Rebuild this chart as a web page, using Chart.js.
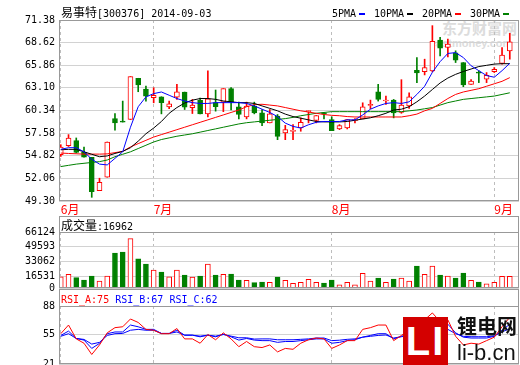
<!DOCTYPE html>
<html>
<head>
<meta charset="utf-8">
<title>易事特 300376</title>
<script src="https://cdn.jsdelivr.net/npm/chart.js@4.4.1/dist/chart.umd.min.js"></script>
<style>
  html, body { margin: 0; padding: 0; background: #fff; }
  #wrap { position: relative; width: 520px; height: 365px; overflow: hidden; }
  canvas { position: absolute; left: 0; z-index: 1; }
  .txt { position: absolute; white-space: nowrap; font-family: "DejaVu Sans Mono", monospace; font-size: 10px; line-height: 14px; z-index: 2; color: #000; }
  .cjk { font-family: "Noto Sans CJK SC", sans-serif; font-size: 12px; }
  .key { position: absolute; top: 13px; width: 6px; height: 2px; z-index: 2; }
  .box { position: absolute; left: 59px; width: 460px; border: 1px solid #999; border-bottom: none; box-sizing: border-box; z-index: 2; }
  .wm { position: absolute; z-index: 0; color: #dcdcdc; font-weight: bold; white-space: nowrap; }
  #logo { position: absolute; left: 403px; top: 317px; width: 45px; height: 48px; background: #d40000; color: #fff; z-index: 3;
          font: bold 40px "Liberation Sans", sans-serif; line-height: 48px; text-align: center; letter-spacing: 2px; }
  .brand { position: absolute; z-index: 3; color: #111; white-space: nowrap; }
</style>
</head>
<body>
<div id="wrap">
  <div class="wm" style="left:442px;top:19px;font-family:'Noto Sans CJK SC';font-size:15px;line-height:18px">东方财富网</div>
  <div class="wm" style="left:430px;top:37px;font-family:'Liberation Sans';font-size:11px;line-height:12px">eastmoney.com</div>

  <canvas id="price" width="520" height="216" style="top:0"></canvas>
  <canvas id="vol" width="520" height="80" style="top:216px"></canvas>
  <canvas id="rsi" width="520" height="86" style="top:289px"></canvas>

  <div class="txt" style="left:61px;top:5px"><span class="cjk">易事特</span>[300376] 2014-09-03</div>

  <div class="txt" style="left:332px;top:7px">5PMA</div>
  <div class="key" style="left:359px;background:#0000ff"></div>
  <div class="txt" style="left:374px;top:7px">10PMA</div>
  <div class="key" style="left:407px;background:#000000"></div>
  <div class="txt" style="left:422px;top:7px">20PMA</div>
  <div class="key" style="left:455px;background:#ff0000"></div>
  <div class="txt" style="left:470px;top:7px">30PMA</div>
  <div class="key" style="left:503px;background:#008000"></div>

  <div class="box" style="top:216px;height:16px"></div>
  <div class="txt" style="left:61px;top:218px"><span class="cjk">成交量</span>:16962</div>

  <div class="box" style="top:289px;height:17px"></div>
  <div class="txt" style="left:61px;top:293px"><span style="color:#ff0000">RSI_A:75</span> <span style="color:#0000ff">RSI_B:67</span> <span style="color:#0000ff">RSI_C:62</span></div>

  <div id="logo">LI</div>
  <div class="brand" style="left:457px;top:315px;font:bold 20px 'Noto Sans CJK SC';line-height:22px">锂电网</div>
  <div class="brand" style="left:457px;top:342px;font:22px 'Liberation Sans';line-height:22px">li-b.cn</div>
</div>

<script>
// trading days shown, 2014
const dates = [
  '06-13', '06-16', '06-17', '06-18', '06-19', '06-20', '06-23', '06-24', '06-25', '06-26', '06-27', '06-30',
  '07-01', '07-02', '07-03', '07-04', '07-07', '07-08', '07-09', '07-10', '07-11', '07-14', '07-15', '07-16',
  '07-17', '07-18', '07-21', '07-22', '07-23', '07-24', '07-25', '07-28', '07-29', '07-30', '07-31',
  '08-01', '08-04', '08-05', '08-06', '08-07', '08-08', '08-11', '08-12', '08-13', '08-14', '08-15',
  '08-18', '08-19', '08-20', '08-21', '08-22', '08-25', '08-26', '08-27', '08-28', '08-29',
  '09-01', '09-02', '09-03'
];

const open = [54.94, 56.05, 56.66, 55.23, 54.62, 50.57, 52.20, 59.36, 59.00, 59.24,
  64.27, 62.96, 61.90, 62.02, 60.79, 61.98, 62.59, 60.67, 61.57, 59.93,
  61.30, 61.36, 63.00, 60.79, 59.57, 60.87, 60.06, 58.83, 59.65, 57.60,
  57.80, 58.22, 60.20, 59.12, 60.00, 59.24, 58.09, 58.22, 59.10, 59.32,
  60.95, 62.63, 61.50, 61.61, 60.10, 60.90, 65.25, 65.09, 65.17, 68.93,
  68.03, 67.38, 66.19, 63.53, 64.97, 64.15, 65.09, 66.07, 67.62];
const high = [56.17, 57.40, 56.99, 55.88, 54.62, 52.08, 56.50, 59.97, 61.49, 64.47,
  64.27, 63.33, 63.12, 62.02, 61.49, 63.53, 62.59, 61.69, 61.86, 65.17,
  62.84, 63.00, 63.15, 61.36, 61.36, 61.36, 60.46, 60.46, 59.85, 58.53,
  58.62, 59.44, 60.30, 59.73, 60.10, 59.57, 58.62, 59.24, 59.36, 61.28,
  61.61, 63.53, 62.10, 61.69, 64.10, 62.50, 66.80, 66.60, 70.69, 69.26,
  69.05, 67.62, 66.19, 64.10, 65.17, 64.97, 65.58, 68.03, 69.75];
const low = [54.74, 55.95, 55.15, 54.66, 49.75, 50.57, 52.20, 57.93, 58.93, 59.24,
  62.63, 61.49, 61.28, 59.93, 60.55, 61.69, 60.46, 59.97, 59.93, 59.57,
  60.26, 60.20, 60.40, 59.32, 59.32, 59.93, 58.50, 58.83, 56.78, 56.78,
  56.78, 57.81, 58.83, 58.83, 59.32, 57.89, 58.01, 58.09, 58.83, 59.32,
  60.55, 61.49, 61.08, 59.44, 60.00, 60.60, 63.74, 64.68, 65.05, 67.01,
  66.88, 66.19, 63.25, 63.53, 63.74, 63.74, 64.97, 65.99, 66.60];
const close = [55.88, 56.99, 55.23, 54.66, 50.44, 51.59, 56.50, 58.83, 58.93, 64.47,
  63.45, 62.10, 62.18, 61.28, 61.16, 62.63, 60.75, 61.00, 59.93, 61.77,
  60.80, 63.00, 61.40, 59.85, 60.87, 60.06, 58.83, 59.93, 57.19, 58.01,
  57.89, 58.91, 60.26, 59.73, 59.92, 57.89, 58.50, 59.24, 59.16, 60.79,
  61.08, 61.69, 61.61, 60.06, 61.00, 62.00, 64.92, 65.58, 68.77, 67.95,
  68.44, 66.48, 63.45, 63.94, 64.90, 64.64, 65.37, 67.09, 68.73];

const ma5 = [55.6, 55.8, 55.8, 55.3, 54.4, 53.8, 53.7, 54.5, 55.3, 58.3,
  60.8, 62.0, 62.4, 62.6, 62.2, 61.8, 61.5, 61.3, 61.2, 61.2,
  61.3, 61.3, 61.3, 61.3, 61.2, 60.9, 60.5, 60.1, 59.6, 58.8,
  58.4, 58.2, 58.6, 58.9, 59.0, 59.0, 59.0, 59.2, 59.2, 59.8,
  60.5, 60.9, 61.2, 61.3, 61.2, 61.4, 62.3, 63.3, 65.0, 66.3,
  67.3, 67.4, 66.8, 65.8, 65.2, 64.6, 64.4, 65.2, 66.1];
const ma10 = [55.55, 55.6, 55.6, 55.3, 55.0, 54.7, 54.8, 55.1, 55.35, 55.8,
  56.6, 57.5, 58.2, 59.0, 60.0, 60.7, 61.25, 61.6, 61.8, 61.8,
  61.7, 61.5, 61.4, 61.3, 61.3, 61.2, 60.9, 60.6, 60.3, 59.9,
  59.6, 59.4, 59.2, 59.0, 58.95, 58.95, 58.95, 59.0, 59.15, 59.3,
  59.45, 59.7, 60.0, 60.4, 60.5, 60.8, 61.4, 62.1, 62.9, 63.7,
  64.3, 64.75, 65.1, 65.4, 65.7, 65.85, 66.0, 66.05, 66.05];
const ma20 = [55.15, 55.10, 55.06, 55.02, 55.02, 55.02, 55.05, 55.20, 55.35, 55.90,
  56.30, 56.70, 57.10, 57.40, 57.70, 58.00, 58.30, 58.60, 58.90, 59.20,
  59.50, 59.80, 60.10, 60.40, 60.80, 61.05, 61.10, 61.00, 60.90, 60.70,
  60.50, 60.30, 60.15, 60.00, 59.85, 59.75, 59.70, 59.60, 59.55, 59.55,
  59.55, 59.55, 59.55, 59.55, 59.55, 59.70, 59.90, 60.30, 60.60, 61.20,
  61.80, 62.30, 62.60, 62.80, 63.00, 63.30, 63.60, 63.90, 64.35];
const ma30 = [53.50, 53.65, 53.80, 53.90, 54.00, 54.10, 54.30, 54.70, 55.00, 55.30,
  55.70, 56.10, 56.50, 56.80, 57.00, 57.20, 57.35, 57.50, 57.70, 57.90,
  58.10, 58.30, 58.50, 58.70, 58.85, 58.95, 59.05, 59.15, 59.25, 59.35,
  59.50, 59.70, 59.85, 60.00, 60.10, 60.20, 60.20, 60.20, 60.20, 60.20,
  60.20, 60.20, 60.20, 60.20, 60.20, 60.30, 60.40, 60.55, 60.70, 61.00,
  61.30, 61.50, 61.70, 61.80, 61.90, 62.00, 62.10, 62.30, 62.50];

const volume = [16530, 19170, 15430, 12890, 17300, 11790, 17300, 42650, 43750, 58850,
  36370, 30530, 23910, 21710, 16530, 23910, 18400, 16200, 17300, 30530,
  18400, 19170, 19510, 12890, 12560, 9920, 10690, 10360, 16200, 12560,
  9260, 10360, 13660, 10360, 9590, 12890, 7380, 10360, 7380, 20280,
  11790, 15100, 10360, 14000, 15100, 11790, 28320, 19170, 28320, 18400,
  17300, 15100, 20610, 12560, 10690, 8490, 10360, 16970, 16962];

const rsiA = [56, 66, 50, 45, 32, 43, 57, 63, 64, 73,
  69, 61, 60, 56, 56, 62, 50, 50, 45, 55,
  49, 57, 50, 41, 47, 41, 40, 43, 35, 39,
  38, 45, 49, 51, 50, 39, 43, 48, 48, 61,
  63, 66, 66, 48, 54, 60, 68, 72, 80, 70,
  72, 53, 43, 45, 44, 48, 52, 64, 75];
const rsiB = [54, 59, 50.5, 48.6, 39, 44.8, 56, 58, 58, 66,
  64, 61, 61, 56.3, 56.3, 60, 54.3, 54.3, 52.4, 54.3,
  52.4, 55.5, 52.4, 48.6, 50.5, 48.6, 48, 48, 46, 47,
  47, 48, 49, 50, 50, 45, 46, 48, 49, 52,
  54, 56, 56, 50, 53, 56, 61, 64, 70, 67,
  67, 57, 52, 51, 51, 51, 53, 60, 67];
const rsiC = [53, 56, 50.5, 49.4, 44, 46, 54, 56, 56.3, 60,
  61, 60, 60, 56.3, 56.3, 58, 54.3, 54.3, 53.2, 54.3,
  53.2, 55, 53.2, 51.3, 51.3, 49.8, 50, 50, 49, 49,
  49, 49.5, 50, 51, 51, 48, 48.5, 49.5, 50, 52,
  53, 54, 54.5, 51, 52.5, 54, 57, 59, 63, 61,
  61, 56, 53, 52.5, 52.5, 52.5, 53.5, 58, 62];

const priceTicks = [49.30, 52.06, 54.82, 57.58, 60.34, 63.10, 65.86, 68.62, 71.38];
const volTicks = [0, 16531, 33062, 49593, 66124];
const rsiTicks = [21, 55, 88];

const RED = '#ff0000', GREEN = '#008000', BLUE = '#0000ff';
const isUp = i => close[i] >= open[i];
const pts = arr => arr.map((v, i) => ({ x: i, y: v }));

// first trading day of each month gets a dashed line + label
const monthStarts = [];
dates.forEach((d, i) => {
  if (i === 0 || d.slice(0, 2) !== dates[i - 1].slice(0, 2)) monthStarts.push(i);
});

const frame = {
  id: 'frame',
  afterDraw(chart) {
    const { ctx, chartArea: a } = chart;
    ctx.save();
    ctx.strokeStyle = '#999';
    ctx.lineWidth = 1;
    ctx.strokeRect(Math.round(a.left) + 0.5, Math.round(a.top) + 0.5,
      Math.round(a.right - a.left) - 1, Math.round(a.bottom - a.top) - 1);
    ctx.restore();
  }
};

function xScale(showLabels) {
  return {
    type: 'linear',
    min: -0.23,
    max: dates.length + 0.19,
    offset: false,
    afterBuildTicks: s => { s.ticks = monthStarts.map(v => ({ value: v })); },
    afterFit: s => { s.height = showLabels ? 15 : 0; s.paddingLeft = 0; s.paddingRight = 0; },
    grid: { color: '#bdbdbd', drawTicks: false, offset: false },
    border: { display: false, dash: [3, 3] },
    ticks: {
      display: showLabels, autoSkip: false, maxRotation: 0, align: 'start', padding: 1,
      color: RED, font: { family: 'Noto Sans CJK SC', size: 12 },
      callback: v => Number(dates[v].slice(0, 2)) + '月'
    }
  };
}

function yScale(min, max, ticks, fmt) {
  return {
    min: min,
    max: max,
    afterBuildTicks: s => { s.ticks = ticks.map(v => ({ value: Math.max(v, min) })); },
    afterFit: s => { s.width = 59; s.paddingTop = 0; s.paddingBottom = 0; },
    grid: { color: '#d2d2d2', drawTicks: false },
    border: { display: false },
    ticks: { autoSkip: false, padding: 4, color: '#000', font: { family: 'DejaVu Sans Mono', size: 10 }, callback: fmt }
  };
}

function baseOptions(padding) {
  return {
    responsive: false,
    animation: false,
    events: [],
    layout: { autoPadding: false, padding: padding },
    plugins: { legend: { display: false }, tooltip: { enabled: false } }
  };
}

function maLine(values, color) {
  return { type: 'line', data: pts(values), borderColor: color, borderWidth: 1, pointRadius: 0, fill: false, tension: 0, order: 0 };
}

// price panel: candles + moving averages
const priceOpts = baseOptions({ top: 20, right: 1, bottom: 0, left: 0 });
priceOpts.scales = {
  x: xScale(true),
  y: yScale(priceTicks[0], priceTicks[priceTicks.length - 1], priceTicks, v => v.toFixed(2))
};
new Chart(document.getElementById('price'), {
  type: 'bar',
  data: {
    datasets: [
      maLine(ma5, BLUE),
      maLine(ma10, '#000000'),
      maLine(ma20, RED),
      maLine(ma30, GREEN),
      {
        data: dates.map((d, i) => ({ x: i, y: [open[i], close[i]] })),
        backgroundColor: c => isUp(c.dataIndex) ? '#ffffff' : GREEN,
        borderColor: c => isUp(c.dataIndex) ? RED : GREEN,
        borderWidth: 1,
        borderSkipped: false,
        barThickness: 5,
        minBarLength: 1,
        grouped: false,
        order: 1
      },
      {
        data: dates.map((d, i) => ({ x: i, y: [low[i], high[i]] })),
        backgroundColor: c => isUp(c.dataIndex) ? RED : GREEN,
        borderWidth: 0,
        barThickness: 1,
        grouped: false,
        order: 2
      }
    ]
  },
  options: priceOpts,
  plugins: [frame]
});

// volume panel
const volMin = 4000;
const volOpts = baseOptions({ top: 16, right: 1, bottom: 8, left: 0 });
volOpts.scales = {
  x: xScale(false),
  y: yScale(volMin, volTicks[volTicks.length - 1], volTicks, v => v <= volMin ? '0' : String(v))
};
new Chart(document.getElementById('vol'), {
  type: 'bar',
  data: {
    datasets: [{
      data: pts(volume),
      backgroundColor: c => isUp(c.dataIndex) ? '#ffffff' : GREEN,
      borderColor: c => isUp(c.dataIndex) ? RED : GREEN,
      borderWidth: 1,
      barThickness: 5,
      grouped: false
    }]
  },
  options: volOpts,
  plugins: [frame]
});

// RSI panel
const rsiOpts = baseOptions({ top: 17, right: 1, bottom: 11, left: 0 });
rsiOpts.scales = {
  x: xScale(false),
  y: yScale(rsiTicks[0], rsiTicks[rsiTicks.length - 1], rsiTicks, v => String(v))
};
new Chart(document.getElementById('rsi'), {
  type: 'line',
  data: {
    datasets: [
      { data: pts(rsiA), borderColor: RED, borderWidth: 1, pointRadius: 0, tension: 0 },
      { data: pts(rsiB), borderColor: BLUE, borderWidth: 1, pointRadius: 0, tension: 0 },
      { data: pts(rsiC), borderColor: BLUE, borderWidth: 1, pointRadius: 0, tension: 0 }
    ]
  },
  options: rsiOpts,
  plugins: [frame]
});
</script>
</body>
</html>
